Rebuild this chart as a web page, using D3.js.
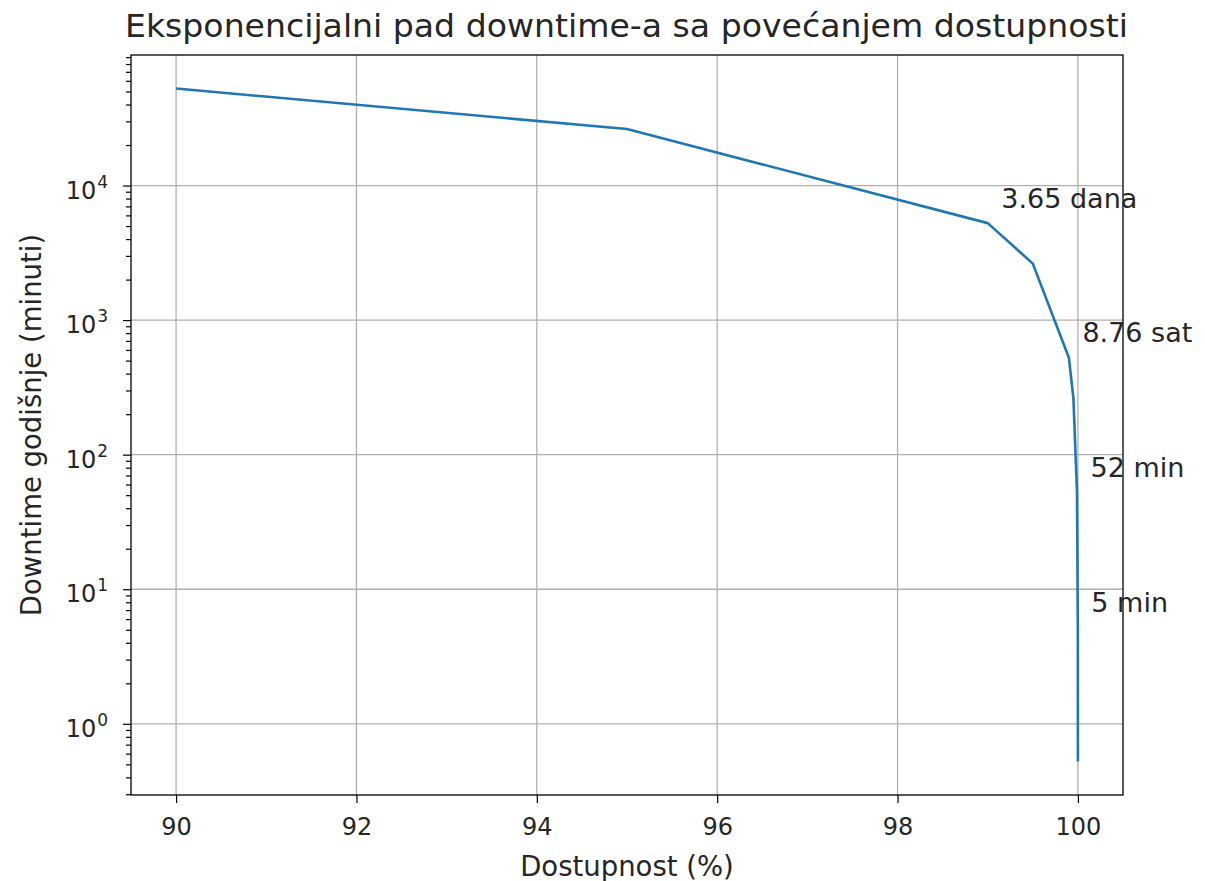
<!DOCTYPE html>
<html>
<head>
<meta charset="utf-8">
<script src="https://cdn.jsdelivr.net/npm/d3@7"></script>
<style>
  body { margin: 0; background: #fff; }
  text { font-family: "DejaVu Sans", sans-serif; fill: #262626; }
</style>
</head>
<body>
<div id="chart"></div>
<script>
// Availability levels (%) and yearly downtime in minutes
let availability = [90, 95, 99, 99.5, 99.9, 99.95, 99.99, 99.999, 99.9999];
let downtime = [52560, 26280, 5256, 2628, 525.6, 262.8, 52.56, 5.256, 0.5256];

// Annotated points
let noteAvail = [99, 99.9, 99.99, 99.999];
let noteDown = [5256, 525.6, 52.56, 5.256];
let noteText = ["3.65 dana", "8.76 sat", "52 min", "5 min"];

let xTicks = [90, 92, 94, 96, 98, 100];
let yTicks = [1, 10, 100, 1000, 10000];

let svgWidth = 1205;
let svgHeight = 881;
let margin = { top: 55, right: 82, bottom: 86, left: 131 };
let width = svgWidth - margin.left - margin.right;
let height = svgHeight - margin.top - margin.bottom;

let svg = d3.select("#chart")
    .append("svg")
    .attr("width", svgWidth)
    .attr("height", svgHeight);

let chartGroup = svg.append("g")
    .attr("transform", `translate(${margin.left}, ${margin.top})`);

// Scales (matplotlib default 5% margins)
let xScale = d3.scaleLinear()
    .domain([89.5, 100.5])
    .range([0, width]);

let yScale = d3.scaleLog()
    .domain([Math.pow(10, -0.529), Math.pow(10, 4.97)])
    .range([height, 0]);

// Grid
chartGroup.append("g")
    .selectAll("line")
    .data(xTicks)
    .enter()
    .append("line")
    .attr("x1", d => xScale(d))
    .attr("x2", d => xScale(d))
    .attr("y1", 0)
    .attr("y2", height)
    .attr("stroke", "#b0b0b0")
    .attr("stroke-width", 1.3);

chartGroup.append("g")
    .selectAll("line")
    .data(yTicks)
    .enter()
    .append("line")
    .attr("x1", 0)
    .attr("x2", width)
    .attr("y1", d => yScale(d))
    .attr("y2", d => yScale(d))
    .attr("stroke", "#b0b0b0")
    .attr("stroke-width", 1.3);

// Axes
let bottomAxis = d3.axisBottom(xScale)
    .tickValues(xTicks)
    .tickSize(8)
    .tickPadding(15)
    .tickFormat(d3.format("d"));

let xAxis = chartGroup.append("g")
    .attr("transform", `translate(0, ${height})`)
    .call(bottomAxis);

// minor ticks for log axis
let minorTicks = [];
d3.range(-1, 5).forEach(function (k) {
    d3.range(2, 10).forEach(function (m) {
        let v = m * Math.pow(10, k);
        if (v > yScale.domain()[0] && v < yScale.domain()[1]) minorTicks.push(v);
    });
});

let leftAxis = d3.axisLeft(yScale)
    .tickValues(yTicks)
    .tickSize(8)
    .tickFormat("");

let yAxis = chartGroup.append("g").call(leftAxis);

chartGroup.append("g")
    .call(d3.axisLeft(yScale).tickValues(minorTicks).tickSize(5).tickFormat(""))
    .select(".domain").remove();

[xAxis, yAxis].forEach(function (ax) {
    ax.select(".domain").remove();
});
chartGroup.selectAll(".tick line").attr("stroke", "#000").attr("stroke-width", 1.2);

xAxis.selectAll("text")
    .style("font-size", "24px")
    .style("font-family", "DejaVu Sans")
    .attr("fill", "#262626");

// y tick labels as 10^k
yTicks.forEach(function (v) {
    let t = chartGroup.append("text")
        .attr("x", -23)
        .attr("y", yScale(v) + 13)
        .attr("text-anchor", "end")
        .style("font-size", "24px");
    t.append("tspan").text("10");
    t.append("tspan")
        .attr("dx", 1)
        .attr("dy", -11)
        .style("font-size", "17px")
        .text(Math.round(Math.log10(v)));
});

// Line
let line = d3.line()
    .x((d, i) => xScale(availability[i]))
    .y(d => yScale(d));

chartGroup.append("path")
    .datum(downtime)
    .attr("d", line)
    .attr("fill", "none")
    .attr("stroke", "#1f77b4")
    .attr("stroke-width", 2.6)
    .attr("stroke-linejoin", "round");

// Spines
chartGroup.append("rect")
    .attr("x", 0)
    .attr("y", 0)
    .attr("width", width)
    .attr("height", height)
    .attr("fill", "none")
    .attr("stroke", "#000")
    .attr("stroke-width", 1.3);

// Annotations
chartGroup.selectAll(".note")
    .data(noteText)
    .enter()
    .append("text")
    .attr("class", "note")
    .attr("x", (d, i) => xScale(noteAvail[i] + 0.15))
    .attr("y", (d, i) => yScale(noteDown[i] * 1.3))
    .style("font-size", "27px")
    .text(d => d);

// Title and axis labels
svg.append("text")
    .attr("x", 125)
    .attr("y", 37)
    .attr("textLength", 1003)
    .attr("lengthAdjust", "spacingAndGlyphs")
    .style("font-size", "32.5px")
    .text("Eksponencijalni pad downtime-a sa povećanjem dostupnosti");

svg.append("text")
    .attr("x", margin.left + width / 2)
    .attr("y", 876)
    .attr("text-anchor", "middle")
    .style("font-size", "27.5px")
    .text("Dostupnost (%)");

svg.append("text")
    .attr("transform", `translate(41, ${margin.top + height / 2}) rotate(-90)`)
    .attr("text-anchor", "middle")
    .style("font-size", "27.5px")
    .text("Downtime godišnje (minuti)");
</script>
</body>
</html>
